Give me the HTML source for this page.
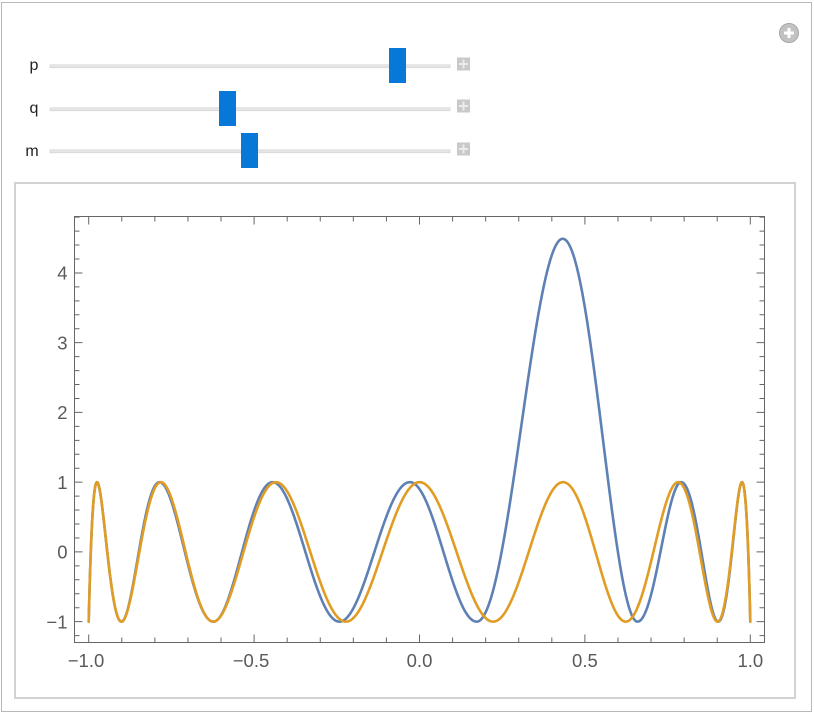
<!DOCTYPE html>
<html><head><meta charset="utf-8">
<style>
html,body{margin:0;padding:0;background:#fff;width:814px;height:716px;overflow:hidden;}
svg{display:block;}
text{font-family:"Liberation Sans",Arial,sans-serif;}
</style></head>
<body>
<svg id="s" width="814" height="716" viewBox="0 0 814 716" xmlns="http://www.w3.org/2000/svg">
<rect x="0" y="0" width="814" height="716" fill="#fff"/>
<!-- outer panel -->
<rect x="1.5" y="2.5" width="810" height="709" fill="none" stroke="#b8b8b8" stroke-width="1"/>
<!-- top-right icon -->
<circle cx="789" cy="33" r="9.5" fill="#c2c2c2" stroke="#a8a8a8" stroke-width="1"/>
<rect x="784" y="31.5" width="10" height="3" fill="#fff"/>
<rect x="787.5" y="28" width="3" height="10" fill="#fff"/>

<!-- slider labels -->
<text x="34" y="70" font-size="16" fill="#222" text-anchor="middle">p</text>
<text x="34" y="113" font-size="16" fill="#222" text-anchor="middle">q</text>
<text x="32" y="156" font-size="16" fill="#222" text-anchor="middle">m</text>

<!-- tracks -->
<rect x="50" y="64.8" width="400" height="3" fill="#e6e6e6" stroke="#d0d0d0" stroke-width="0.6"/>
<rect x="50" y="107.8" width="400" height="3" fill="#e6e6e6" stroke="#d0d0d0" stroke-width="0.6"/>
<rect x="50" y="149.8" width="400" height="3" fill="#e6e6e6" stroke="#d0d0d0" stroke-width="0.6"/>

<!-- handles -->
<rect x="389" y="48" width="17" height="35" fill="#0878d8"/>
<rect x="219" y="91" width="17" height="35" fill="#0878d8"/>
<rect x="241" y="133" width="17" height="35" fill="#0878d8"/>

<!-- plus buttons -->
<g fill="#c9c9c9">
<rect x="457" y="57.5" width="13" height="13"/>
<rect x="457" y="99.5" width="13" height="13"/>
<rect x="457" y="142.5" width="13" height="13"/>
</g>
<g fill="#ececec">
<rect x="462.5" y="59.5" width="2" height="9"/><rect x="459" y="63" width="9" height="2"/>
<rect x="462.5" y="101.5" width="2" height="9"/><rect x="459" y="105" width="9" height="2"/>
<rect x="462.5" y="144.5" width="2" height="9"/><rect x="459" y="148" width="9" height="2"/>
</g>

<!-- inner plot box -->
<rect x="15" y="183" width="780" height="515" fill="none" stroke="#d2d2d2" stroke-width="2"/>

<defs><clipPath id="cp"><rect x="75" y="217" width="689" height="425"/></clipPath></defs>

<!-- curves -->
<g clip-path="url(#cp)" fill="none" stroke-width="2.6" stroke-linejoin="round" stroke-linecap="round">
<path id="blue" stroke="#5E81B5" d=""/>
<path id="orange" stroke="#E19C24" d=""/>
</g>

<!-- frame -->
<rect x="74.5" y="216.5" width="690" height="426" fill="none" stroke="#666" stroke-width="1"/>
<path id="ticks" stroke="#666" stroke-width="1" fill="none" d=""/>

<!-- y labels -->
<g font-size="18.5" fill="#5a5a5a" text-anchor="end">
<text x="67.5" y="279.6">4</text>
<text x="67.5" y="349.3">3</text>
<text x="67.5" y="419.1">2</text>
<text x="67.5" y="488.8">1</text>
<text x="67.5" y="558.5">0</text>
<text x="67.5" y="628.3">−1</text>
</g>
<!-- x labels -->
<g font-size="18.5" fill="#5a5a5a" text-anchor="middle">
<text x="86" y="667">−1.0</text>
<text x="251" y="667">−0.5</text>
<text x="419.5" y="667">0.0</text>
<text x="584.9" y="667">0.5</text>
<text x="750.3" y="667">1.0</text>
</g>
</svg>
<script>
(function(){
var X=function(x){return 419.5+330.8*x;}, Y=function(y){return 551.9-69.74*y;};
var t='';
for(var k=-10;k<=10;k++){var x=X(k/10).toFixed(2),L=(k%5===0)?8:5;t+='M'+x+' 642.5v'+(-L)+'M'+x+' 216.5v'+L;}
for(var k=-6;k<=24;k++){var y=Y(k/5).toFixed(2),L=(k%5===0)?8:5;t+='M74.5 '+y+'h'+L+'M764.5 '+y+'h'+(-L);}
document.getElementById('ticks').setAttribute('d',t);
var ex=[-1,-0.9749,-0.901,-0.786,-0.623,-0.444,-0.242,-0.029,0.173,0.433,0.659,0.791,0.903,0.9749,1];
var ev=[-1,1,-1,1,-1,1,-1,1,-1,4.49,-1,1,-1,1,-1];
var th=ex.map(function(v){return Math.acos(v);});
function blue(x){var a=Math.acos(Math.max(-1,Math.min(1,x)));
 for(var i=0;i<th.length-1;i++){ if(a<=th[i]+1e-12&&a>=th[i+1]-1e-12){var u=(th[i]-a)/(th[i]-th[i+1]);return ev[i]+(ev[i+1]-ev[i])*(1-Math.cos(Math.PI*u))/2;}}
 return -1;}
function orange(x){return -Math.cos(14*Math.acos(Math.max(-1,Math.min(1,x))));}
var N=3000,db='',dor='';
for(var j=0;j<=N;j++){var x=-Math.cos(Math.PI*j/N);
 var px=X(x).toFixed(2);
 db+=(j?'L':'M')+px+' '+Y(blue(x)).toFixed(2);
 dor+=(j?'L':'M')+px+' '+Y(orange(x)).toFixed(2);}
document.getElementById('blue').setAttribute('d',db);
document.getElementById('orange').setAttribute('d',dor);
})();
</script>
</body></html>
